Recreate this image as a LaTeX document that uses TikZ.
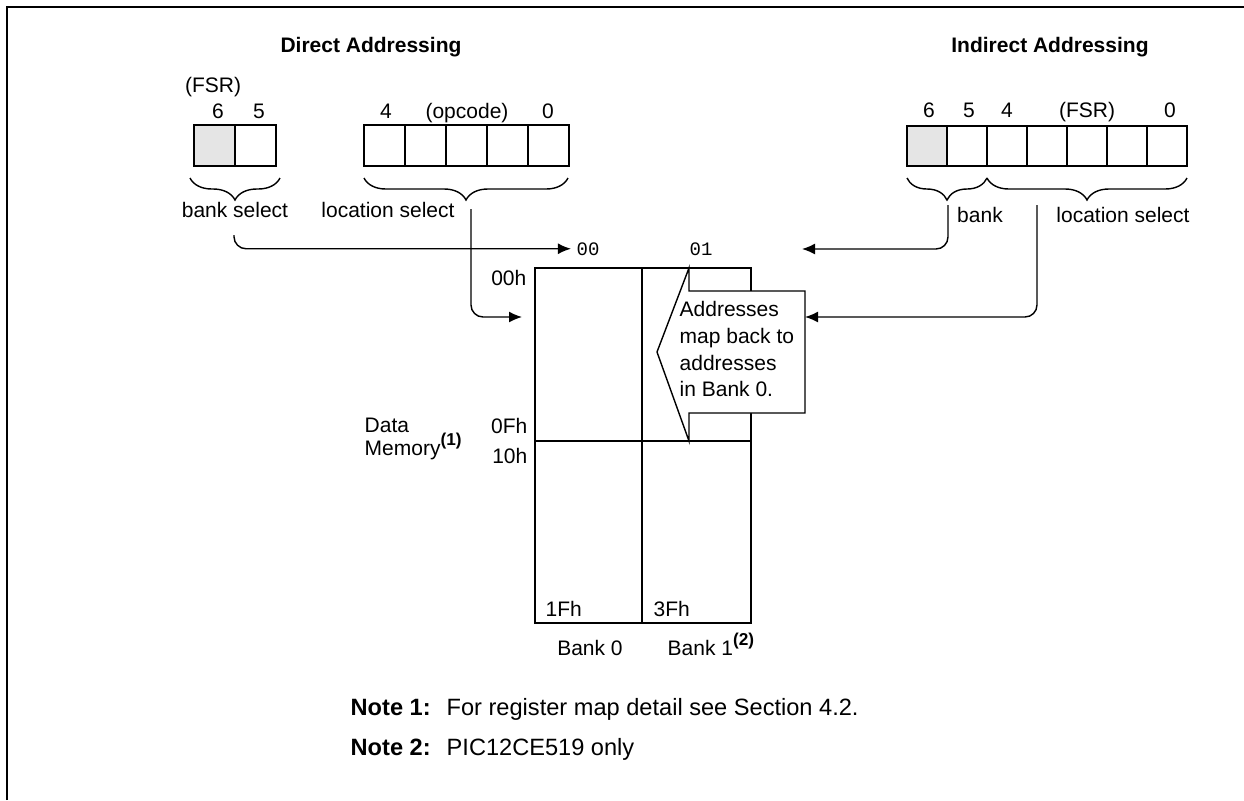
\documentclass[tikz,border=0pt]{standalone}
\usepackage{fontspec}
\setmainfont{Liberation Sans}
\setmonofont{Liberation Mono}
\usetikzlibrary{arrows.meta,positioning,decorations.pathreplacing}
\newcommand{\figmark}[1]{\raisebox{5pt}{\fontsize{8.6}{9}\selectfont\bfseries(#1)}}

\begin{document}
\begin{tikzpicture}[x=0.5pt, y=-0.5pt, line width=0.7pt,
  >={Latex[length=6.5pt,width=5.5pt]},
  txt/.style={font=\fontsize{10.5}{13.3}\selectfont, inner sep=0pt},
  title/.style={txt, font=\fontsize{10.5}{13.3}\selectfont\bfseries},
  note/.style={txt, font=\fontsize{11.8}{14}\selectfont},
  mono/.style={font=\fontsize{9.5}{11}\selectfont\ttfamily, inner sep=2.5pt},
  bit/.style={draw, minimum width=20.5pt, minimum height=20.5pt, inner sep=0pt, outer sep=0pt},
  bankbit/.style={bit, fill=black!10},
  indbit/.style={bit, minimum width=20pt, minimum height=20pt},
  curly/.style={decorate, decoration={brace, mirror, amplitude=11pt}},
  link/.style={->, rounded corners=6pt}]
						\useasboundingbox (0,0) rectangle (1244,800);
						\draw[line width=1.3pt] (7,800) -- (7,7) -- (1244,7);
						
						\node[title, anchor=base] (DirTitle) at (371,52) {Direct Addressing};
						\node[title, anchor=base] (IndTitle) at (1050,52) {Indirect Addressing};
						
						% direct addressing
						\node[bankbit] (DirSix) at (214.5,145.5) {};
						\node[bit, right=0pt of DirSix] (DirFive) {};
						\node[txt, anchor=base] (DirFsr) at (213,92) {(FSR)};
						\node[txt, anchor=base] (DirSixNum) at (218,118) {6};
						\node[txt, anchor=base] (DirFiveNum) at (259,118) {5};
						
						\node[bit] (OpFour) at (384.5,145.5) {};
						\node[bit, right=0pt of OpFour] (OpThree) {};
						\node[bit, right=0pt of OpThree] (OpTwo) {};
						\node[bit, right=0pt of OpTwo] (OpOne) {};
						\node[bit, right=0pt of OpOne] (OpZero) {};
						\node[txt, anchor=base] (OpFourNum) at (386,118) {4};
						\node[txt, anchor=base] (OpName) at (467,118) {(opcode)};
						\node[txt, anchor=base] (OpZeroNum) at (548,118) {0};
						
						\draw[curly] (190,178) -- (280,178);
						\draw[curly] (364,178) -- (568,178);
						\node[txt, anchor=base] (DirBankSel) at (235,217) {bank select};
						\node[txt, anchor=base] (DirLocSel) at (388,217) {location select};
						
						% indirect addressing
						\node[bankbit, indbit] (IndSix) at (927,146) {};
						\node[indbit, right=0pt of IndSix] (IndFive) {};
						\node[indbit, right=0pt of IndFive] (IndFour) {};
						\node[indbit, right=0pt of IndFour] (IndThree) {};
						\node[indbit, right=0pt of IndThree] (IndTwo) {};
						\node[indbit, right=0pt of IndTwo] (IndOne) {};
						\node[indbit, right=0pt of IndOne] (IndZero) {};
						\node[txt, anchor=base] (IndSixNum) at (929,117) {6};
						\node[txt, anchor=base] (IndFiveNum) at (969,117) {5};
						\node[txt, anchor=base] (IndFourNum) at (1007,117) {4};
						\node[txt, anchor=base] (IndFsr) at (1087,117) {(FSR)};
						\node[txt, anchor=base] (IndZeroNum) at (1170,117) {0};
						
						\draw[curly] (907,178) -- (987,178);
						\draw[curly] (987,178) -- (1187,178);
						\node[txt, anchor=base] (IndBankSel) at (980,222) {bank};
						\node[txt, anchor=base] (IndLocSel) at (1123,222) {location select};
						
						% data memory
						\draw (535,268) rectangle (751,623);
						\draw (642,268) -- (642,623);
						\draw (535,441) -- (751,441);
						\draw[line width=1.3pt] (535,623) -- (751,623);
						\draw[fill=white] (689,268) -- (689,291) -- (805,291) -- (805,413) -- (689,413) -- (689,441) -- (657,352) -- cycle;
						\node[txt, align=left, anchor=north west] (MapBack) at (679,301) {Addresses\\map back to\\addresses\\in Bank 0.};
						
						\node[mono, anchor=base] (BankZero) at (588,255) {00};
						\node[mono, anchor=base] (BankOne) at (701,255) {01};
						\node[txt, anchor=base east] (AddrTop) at (527,285) {00h};
						\node[txt, anchor=base east] (AddrMidA) at (528,433) {0Fh};
						\node[txt, anchor=base east] (AddrMidB) at (528,463) {10h};
						\node[txt, anchor=base west] (AddrEndA) at (545,616) {1Fh};
						\node[txt, anchor=base west] (AddrEndB) at (653,616) {3Fh};
						\node[txt, align=left, anchor=north west, font=\fontsize{10.5}{11.5}\selectfont] (DataMem) at (364,417) {Data\\Memory\figmark{1}};
						\node[txt, anchor=base] (BankZeroName) at (590,655) {Bank 0};
						\node[txt, anchor=base west] (BankOneName) at (667,655) {Bank 1\figmark{2}};
						
						% connectors
						\coordinate (DirBankOut) at (234,235);
						\coordinate (DirLocOut) at (471,209);
						\coordinate (IndBankOut) at (948,205);
						\coordinate (IndLocOut) at (1037,205);
						\coordinate (MemIn) at (522,317);
						\coordinate (BankIn) at (802,249);
						\coordinate (MapIn) at (805,317);
						\draw[link] (DirBankOut) |- (BankZero.west);
						\draw[link] (DirLocOut) |- (MemIn);
						\draw[link] (IndBankOut) |- (BankIn);
						\draw[link] (IndLocOut) |- (MapIn);
						
						% notes
						\node[note, anchor=base west, font=\fontsize{11.8}{14}\selectfont\bfseries] (NoteOne) at (350,715) {Note 1:};
						\node[note, anchor=base west] (NoteOneText) at (446,715) {For register map detail see Section 4.2.};
						\node[note, anchor=base west, font=\fontsize{11.8}{14}\selectfont\bfseries] (NoteTwo) at (350,755) {Note 2:};
						\node[note, anchor=base west] (NoteTwoText) at (446,755) {PIC12CE519 only};
						\end{tikzpicture}
\end{document}
